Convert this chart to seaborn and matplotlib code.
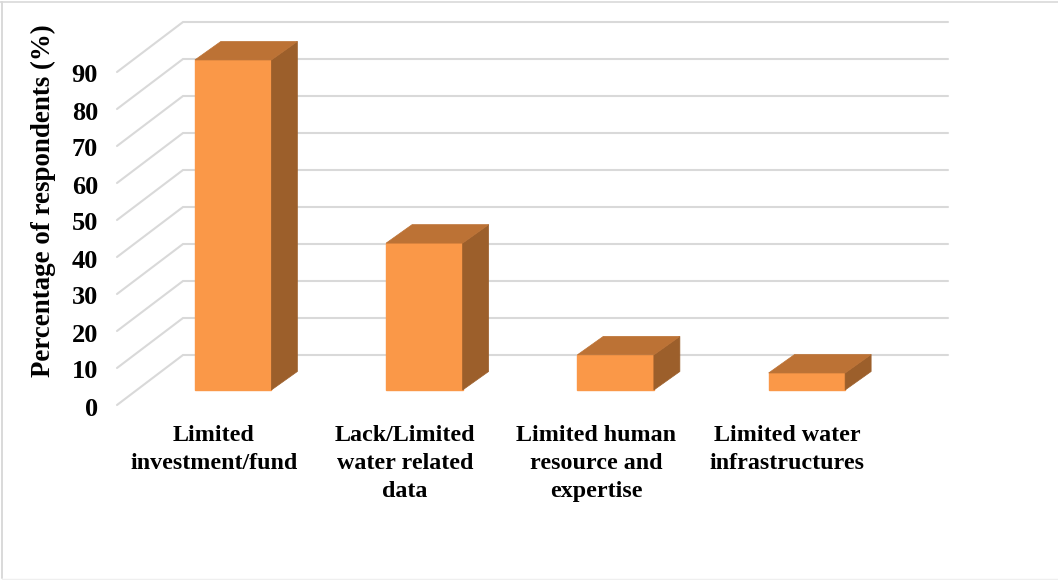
import matplotlib
matplotlib.use("Agg")
import matplotlib.pyplot as plt
from matplotlib.lines import Line2D
from matplotlib.patches import Polygon
from matplotlib.transforms import ScaledTranslation
import seaborn as sns

categories = ["Limited\ninvestment/fund", "Lack/Limited\nwater related\ndata",
              "Limited human\nresource and\nexpertise", "Limited water\ninfrastructures"]
values = [89.2, 39.7, 9.5, 4.6]
y_ticks = list(range(0, 100, 10))
y_title = "Percentage of respondents (%)"

W, H = 1058, 580
DPI = 100
FRONT, TOP, SIDE = "#FA9848", "#BC7235", "#9C5F2B"
GRID = "#D9D9D9"

sns.set_theme(style="white")
plt.rcParams["font.family"] = ["Liberation Serif", "DejaVu Serif"]
fig = plt.figure(figsize=(W / DPI, H / DPI), dpi=DPI, facecolor="white")

# bar plane: category band from 137.5 to 902.5 px, value 0 at 390 px, 3.7 px per unit
left, right, base, top_px = 137.5, 902.5, 390, 390 - 3.7 * 90
ax = fig.add_axes([left / W, 1 - base / H, (right - left) / W, (base - top_px) / H])

sns.barplot(x=categories, y=values, color=FRONT, saturation=1, width=0.4, ax=ax, zorder=3)
ax.set_xlim(-0.5, 3.5)
ax.set_ylim(0, 90)
sns.despine(ax=ax, left=True, bottom=True, top=True, right=True)

px_x = (right - left) / 4   # px per category
px_y = 3.7                  # px per unit

def dx(p):
    return p / px_x

def dy(p):
    return p / px_y

# wall: floor/side diagonals and back gridlines, from the tick values
for v in y_ticks:
    xs = [-0.5 + dx(-20.5), -0.5 + dx(45.5), 3.5 + dx(45.5)]
    ys = [v + dy(-15), v + dy(35), v + dy(35)]
    ax.plot(xs, ys, color=GRID, lw=1.5, clip_on=False, zorder=1,
            solid_joinstyle="miter")

# box depth faces derived from each bar
ddx, ddy = dx(26), dy(18.5)
for bar in list(ax.patches):
    x0, w, h = bar.get_x(), bar.get_width(), bar.get_height()
    ax.add_patch(Polygon([(x0 + w, 0), (x0 + w + ddx, ddy), (x0 + w + ddx, h + ddy), (x0 + w, h)],
                         closed=True, facecolor=SIDE, edgecolor=SIDE, lw=0.5, clip_on=False, zorder=3))
    ax.add_patch(Polygon([(x0, h), (x0 + ddx, h + ddy), (x0 + w + ddx, h + ddy), (x0 + w, h)],
                         closed=True, facecolor=TOP, edgecolor=TOP, lw=0.5, clip_on=False, zorder=3))
    bar.set_edgecolor(FRONT)
    bar.set_clip_on(False)

# ticks and labels
ax.set_yticks(y_ticks)
ax.set_yticklabels([str(v) for v in y_ticks], fontsize=19, fontweight="bold", color="black")
ax.tick_params(axis="y", length=0, pad=28.5)
ax.tick_params(axis="x", length=0, pad=25.5)
ax.set_xticks(range(len(categories)))
ax.set_xticklabels(categories, fontsize=17.3, fontweight="bold", color="black", linespacing=1.41, va="top")
shift_y = ScaledTranslation(0, -16.5 / DPI, fig.dpi_scale_trans)
shift_x = ScaledTranslation(-19.5 / DPI, 0, fig.dpi_scale_trans)
for lab in ax.get_yticklabels():
    lab.set_transform(lab.get_transform() + shift_y)
for lab in ax.get_xticklabels():
    lab.set_transform(lab.get_transform() + shift_x)

ax.set_ylabel(y_title, fontsize=19.4, fontweight="bold", color="black")
ax.yaxis.set_label_coords(56 / W, 1 - 201 / H, transform=fig.transFigure)
ax.set_xlabel("")

# chart frame
fig.add_artist(Line2D([0, 1], [1 - 1.5 / H] * 2, color=GRID, lw=1.2))
fig.add_artist(Line2D([2 / W] * 2, [1 - 578 / H, 1 - 1.5 / H], color=GRID, lw=1.4))
fig.add_artist(Line2D([2 / W, 1], [1 - 578.5 / H] * 2, color="#EFEFEF", lw=1))

fig.savefig("out.png", dpi=DPI, facecolor="white")
